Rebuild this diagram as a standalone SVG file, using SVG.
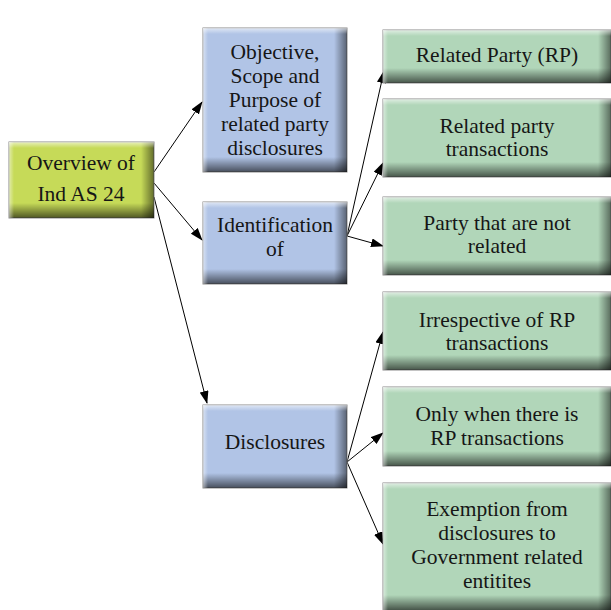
<svg xmlns="http://www.w3.org/2000/svg" width="611" height="610" viewBox="0 0 611 610">
<defs>
<linearGradient id="gBot" x1="0" y1="0" x2="0" y2="1"><stop offset="0" stop-color="#000" stop-opacity="0"/><stop offset="1" stop-color="#000" stop-opacity="0.6"/></linearGradient>
<linearGradient id="gRight" x1="0" y1="0" x2="1" y2="0"><stop offset="0" stop-color="#000" stop-opacity="0"/><stop offset="1" stop-color="#000" stop-opacity="0.5"/></linearGradient>
<linearGradient id="gTop" x1="0" y1="0" x2="0" y2="1"><stop offset="0" stop-color="#fff" stop-opacity="0.6"/><stop offset="1" stop-color="#fff" stop-opacity="0"/></linearGradient>
<linearGradient id="gLeft" x1="0" y1="0" x2="1" y2="0"><stop offset="0" stop-color="#fff" stop-opacity="0.5"/><stop offset="1" stop-color="#fff" stop-opacity="0"/></linearGradient>
<marker id="arr" markerUnits="userSpaceOnUse" markerWidth="13" markerHeight="9" refX="12" refY="4.5" orient="auto"><path d="M0,0 L13,4.5 L0,9 z" fill="#000"/></marker>
</defs>
<style>
.box{stroke:#8a8a8a;stroke-width:1}
.yel{fill:#c6da58}
.blu{fill:#b1c4e6}
.grn{fill:#b1d6b9}
.t{font-size:21.5px;fill:#161616;text-anchor:middle}
.c{fill:none;stroke:#000;stroke-width:1;marker-end:url(#arr)}
</style>
<g id="connectors">
<path class="c" d="M154,172 L202,102"/>
<path class="c" d="M154,183 L202,240"/>
<path class="c" d="M154,197 L207,403"/>
<path class="c" d="M347,236 L384,71"/>
<path class="c" d="M347,236 L383,163"/>
<path class="c" d="M347,236 L383,246"/>
<path class="c" d="M347,462 L383,332"/>
<path class="c" d="M347,462 L383,433"/>
<path class="c" d="M347,462 L383,544"/>
</g>
<g font-family="Liberation Serif, DejaVu Serif, serif">
<g id="overview">
<rect class="box yel" x="9" y="142" width="145" height="76"/>
<rect x="9" y="203" width="145" height="15" fill="url(#gBot)"/>
<rect x="141" y="142" width="13" height="76" fill="url(#gRight)"/>
<rect x="9" y="142" width="145" height="6" fill="url(#gTop)"/>
<rect x="9" y="142" width="5" height="76" fill="url(#gLeft)"/>
<text class="t" x="81" y="170">Overview of</text>
<text class="t" x="81" y="201">Ind AS 24</text>
</g>
<g id="objective">
<rect class="box blu" x="203" y="28" width="144" height="144"/>
<rect x="203" y="157" width="144" height="15" fill="url(#gBot)"/>
<rect x="334" y="28" width="13" height="144" fill="url(#gRight)"/>
<rect x="203" y="28" width="144" height="6" fill="url(#gTop)"/>
<rect x="203" y="28" width="5" height="144" fill="url(#gLeft)"/>
<text class="t" x="275" y="59">Objective,</text>
<text class="t" x="275" y="83">Scope and</text>
<text class="t" x="275" y="107">Purpose of</text>
<text class="t" x="275" y="131">related party</text>
<text class="t" x="275" y="155">disclosures</text>
</g>
<g id="identification">
<rect class="box blu" x="203" y="202" width="144" height="82"/>
<rect x="203" y="269" width="144" height="15" fill="url(#gBot)"/>
<rect x="334" y="202" width="13" height="82" fill="url(#gRight)"/>
<rect x="203" y="202" width="144" height="6" fill="url(#gTop)"/>
<rect x="203" y="202" width="5" height="82" fill="url(#gLeft)"/>
<text class="t" x="275" y="232">Identification</text>
<text class="t" x="275" y="256">of</text>
</g>
<g id="disclosures">
<rect class="box blu" x="203" y="405" width="144" height="83"/>
<rect x="203" y="473" width="144" height="15" fill="url(#gBot)"/>
<rect x="334" y="405" width="13" height="83" fill="url(#gRight)"/>
<rect x="203" y="405" width="144" height="6" fill="url(#gTop)"/>
<rect x="203" y="405" width="5" height="83" fill="url(#gLeft)"/>
<text class="t" x="275" y="449">Disclosures</text>
</g>
<g id="related-party">
<rect class="box grn" x="383" y="30" width="228" height="53"/>
<rect x="383" y="68" width="228" height="15" fill="url(#gBot)"/>
<rect x="598" y="30" width="13" height="53" fill="url(#gRight)"/>
<rect x="383" y="30" width="228" height="6" fill="url(#gTop)"/>
<rect x="383" y="30" width="5" height="53" fill="url(#gLeft)"/>
<text class="t" x="497" y="62">Related Party (RP)</text>
</g>
<g id="rp-transactions">
<rect class="box grn" x="383" y="99" width="228" height="78"/>
<rect x="383" y="162" width="228" height="15" fill="url(#gBot)"/>
<rect x="598" y="99" width="13" height="78" fill="url(#gRight)"/>
<rect x="383" y="99" width="228" height="6" fill="url(#gTop)"/>
<rect x="383" y="99" width="5" height="78" fill="url(#gLeft)"/>
<text class="t" x="497" y="133">Related party</text>
<text class="t" x="497" y="156">transactions</text>
</g>
<g id="not-related">
<rect class="box grn" x="383" y="197" width="228" height="78"/>
<rect x="383" y="260" width="228" height="15" fill="url(#gBot)"/>
<rect x="598" y="197" width="13" height="78" fill="url(#gRight)"/>
<rect x="383" y="197" width="228" height="6" fill="url(#gTop)"/>
<rect x="383" y="197" width="5" height="78" fill="url(#gLeft)"/>
<text class="t" x="497" y="230">Party that are not</text>
<text class="t" x="497" y="253">related</text>
</g>
<g id="irrespective">
<rect class="box grn" x="383" y="292" width="228" height="78"/>
<rect x="383" y="355" width="228" height="15" fill="url(#gBot)"/>
<rect x="598" y="292" width="13" height="78" fill="url(#gRight)"/>
<rect x="383" y="292" width="228" height="6" fill="url(#gTop)"/>
<rect x="383" y="292" width="5" height="78" fill="url(#gLeft)"/>
<text class="t" x="497" y="327">Irrespective of RP</text>
<text class="t" x="497" y="350">transactions</text>
</g>
<g id="only-when">
<rect class="box grn" x="383" y="387" width="228" height="79"/>
<rect x="383" y="451" width="228" height="15" fill="url(#gBot)"/>
<rect x="598" y="387" width="13" height="79" fill="url(#gRight)"/>
<rect x="383" y="387" width="228" height="6" fill="url(#gTop)"/>
<rect x="383" y="387" width="5" height="79" fill="url(#gLeft)"/>
<text class="t" x="497" y="421">Only when there is</text>
<text class="t" x="497" y="445">RP transactions</text>
</g>
<g id="exemption">
<rect class="box grn" x="383" y="483" width="228" height="130"/>
<rect x="383" y="595" width="228" height="15" fill="url(#gBot)"/>
<rect x="598" y="483" width="13" height="130" fill="url(#gRight)"/>
<rect x="383" y="483" width="228" height="6" fill="url(#gTop)"/>
<rect x="383" y="483" width="5" height="130" fill="url(#gLeft)"/>
<text class="t" x="497" y="516">Exemption from</text>
<text class="t" x="497" y="540">disclosures to</text>
<text class="t" x="497" y="564">Government related</text>
<text class="t" x="497" y="588">entitites</text>
</g>
</g>
</svg>
